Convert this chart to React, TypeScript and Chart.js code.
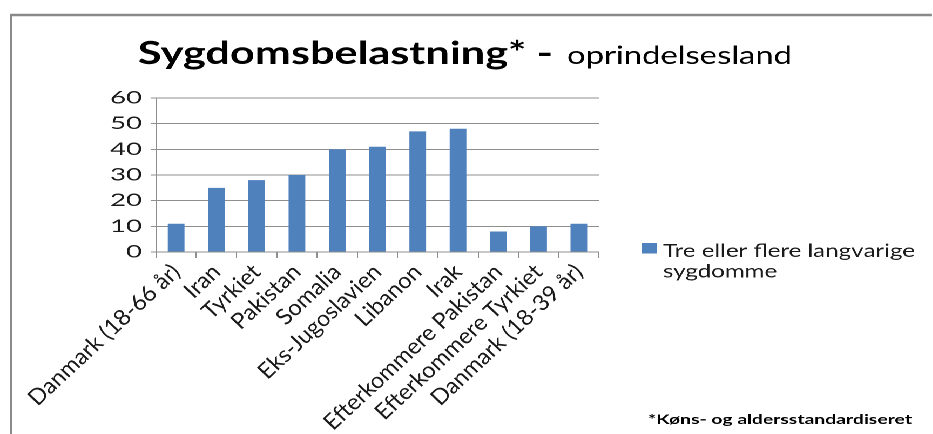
import React, { useEffect, useRef } from "react";
import { Chart, registerables } from "chart.js";

Chart.register(...registerables);

// ---- data ----
const categories: string[] = [
  "Danmark (18-66 år)",
  "Iran",
  "Tyrkiet",
  "Pakistan",
  "Somalia",
  "Eks-Jugoslavien",
  "Libanon",
  "Irak",
  "Efterkommere Pakistan",
  "Efterkommere Tyrkiet",
  "Danmark (18-39 år)",
];
const seriesValues: number[] = [11, 25, 28, 30, 40, 41, 47, 48, 8, 10, 11];
const seriesName = "Tre eller flere langvarige sygdomme";
const legendLines: string[] = ["Tre eller flere langvarige", "sygdomme"];
const titleBold = "Sygdomsbelastning* -";
const titleNormal = "oprindelsesland";
const footnote = "*Køns- og aldersstandardiseret";
const yMin = 0;
const yMax = 60;
const yStep = 10;

// ---- layout (the reference picture is stretched horizontally) ----
const PAGE_W = 933;
const PAGE_H = 434;
const SX = 1.08;
const W = Math.round(PAGE_W / SX);
const u = (x: number) => x / SX; // screen x -> canvas x

const BAR = "#4f81bd";
const GRID = "#8e8e8e";
const TEXT = "#1a1a1a";
const FONT = "Lato";

function drawFitted(
  ctx: CanvasRenderingContext2D,
  text: string,
  x: number,
  y: number,
  font: string,
  width: number | null,
  color: string
) {
  ctx.save();
  ctx.font = font;
  ctx.fillStyle = color;
  ctx.textAlign = "left";
  ctx.textBaseline = "alphabetic";
  ctx.translate(x, y);
  if (width) {
    const m = ctx.measureText(text).width;
    ctx.scale(width / m, 1);
  }
  ctx.fillText(text, 0, 0);
  ctx.restore();
}

const decorPlugin = {
  id: "decor",
  afterDraw(chart: any) {
    const ctx: CanvasRenderingContext2D = chart.ctx;
    // frame lines (top and left)
    ctx.save();
    ctx.strokeStyle = "#8a8a8a";
    ctx.lineWidth = 2.5;
    ctx.beginPath();
    ctx.moveTo(u(10), 15);
    ctx.lineTo(u(932), 15);
    ctx.stroke();
    ctx.lineWidth = 2.5 / SX;
    ctx.beginPath();
    ctx.moveTo(u(11), 14);
    ctx.lineTo(u(11), PAGE_H);
    ctx.stroke();
    ctx.restore();

    // y tick labels (wide, as in the reference)
    const ys = chart.scales.y;
    ys.ticks.forEach((t: any) => {
      const py = ys.getPixelForValue(t.value);
      ctx.save();
      ctx.font = `17px ${FONT}`;
      ctx.fillStyle = TEXT;
      ctx.textAlign = "right";
      ctx.textBaseline = "middle";
      ctx.translate(u(142), py);
      ctx.scale(1.5, 1);
      ctx.fillText(String(t.value), 0, 0);
      ctx.restore();
    });

    // title
    drawFitted(ctx, titleBold, u(138), 64, `bold 32px ${FONT}`, u(553) - u(138), "#000");
    drawFitted(ctx, titleNormal, u(567), 64, `25px ${FONT}`, u(792) - u(567), "#000");

    // legend
    ctx.save();
    ctx.fillStyle = BAR;
    ctx.fillRect(u(642), 243, u(657) - u(642), 10.5);
    ctx.restore();
    ctx.save();
    ctx.font = `18px ${FONT}`;
    const m = ctx.measureText(legendLines[0]).width;
    ctx.restore();
    const k = (u(915) - u(663)) / m;
    legendLines.forEach((line, i) => {
      ctx.save();
      ctx.font = `18px ${FONT}`;
      ctx.fillStyle = TEXT;
      ctx.translate(u(663), 257 + i * 20.5);
      ctx.scale(k, 1);
      ctx.fillText(line, 0, 0);
      ctx.restore();
    });

    // footnote
    drawFitted(ctx, footnote, u(648), 424, `bold 13px ${FONT}`, u(912) - u(648), "#000");
  },
};

export default function App() {
  const ref = useRef<HTMLCanvasElement | null>(null);

  useEffect(() => {
    if (!ref.current) return;
    Chart.defaults.font.family = FONT;
    const chart = new Chart(ref.current, {
      type: "bar",
      data: {
        labels: categories,
        datasets: [
          {
            label: seriesName,
            data: seriesValues,
            backgroundColor: BAR,
            borderWidth: 0,
            barPercentage: 0.415,
            categoryPercentage: 1,
          },
        ],
      },
      options: {
        responsive: false,
        animation: false,
        devicePixelRatio: 2,
        layout: {
          padding: { left: 0, top: 98, right: W - u(599), bottom: 0 },
        },
        plugins: {
          legend: { display: false },
          title: { display: false },
          tooltip: { enabled: false },
        },
        scales: {
          x: {
            grid: {
              drawOnChartArea: false,
              drawTicks: true,
              tickLength: 6,
              color: GRID,
              offset: true,
            },
            border: { color: GRID },
            ticks: {
              minRotation: 45,
              maxRotation: 45,
              autoSkip: false,
              color: TEXT,
              font: { family: FONT, size: 22 },
              padding: 1,
            },
            afterFit: (s: any) => {
              s.height = PAGE_H - 252;
            },
          },
          y: {
            min: yMin,
            max: yMax,
            ticks: {
              stepSize: yStep,
              autoSkip: false,
              display: false,
            },
            grid: { color: GRID, tickLength: 5 },
            border: { color: GRID },
            afterFit: (s: any) => {
              s.width = u(156);
            },
          },
        },
      },
      plugins: [decorPlugin],
    });
    return () => chart.destroy();
  }, []);

  return (
    <div
      style={{
        position: "fixed",
        left: 0,
        top: 0,
        width: W,
        height: PAGE_H,
        background: "#fff",
        transform: `scaleX(${SX})`,
        transformOrigin: "0 0",
      }}
    >
      <canvas ref={ref} width={W} height={PAGE_H} style={{ display: "block" }} />
    </div>
  );
}
